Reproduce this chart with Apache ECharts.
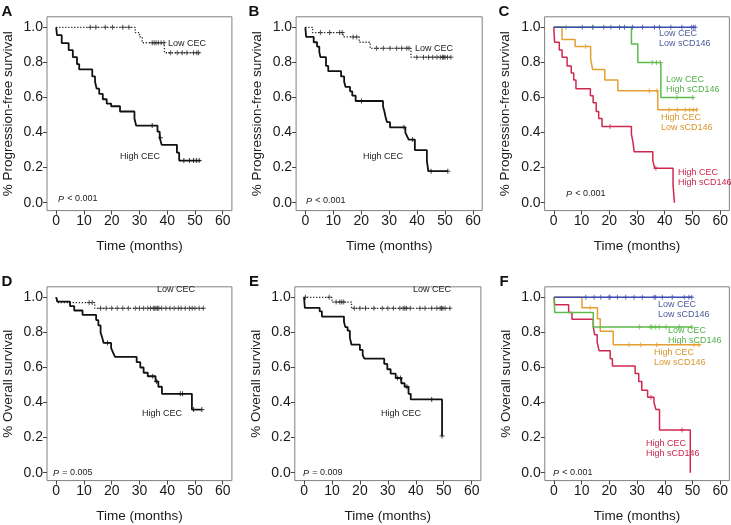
<!DOCTYPE html>
<html><head><meta charset="utf-8">
<script src="https://cdn.jsdelivr.net/npm/echarts@6/dist/echarts.min.js"></script>
<style>html,body{margin:0;padding:0;background:#fff}#c{width:731px;height:525px}</style>
</head><body><div id="c"></div>
<script>
// Tick labels
const xTicks = [0, 10, 20, 30, 40, 50, 60];
const yTicks = [0, 0.2, 0.4, 0.6, 0.8, 1.0];

// Panel A (PFS)
const A_high = [[0,1],[0.3,0.955],[2,0.91],[4.5,0.87],[6,0.83],[7.5,0.79],[8.3,0.76],[13,0.72],[14,0.69],[14.6,0.65],[15.5,0.62],[16.8,0.59],[18.2,0.565],[19.8,0.55],[23,0.52],[28.2,0.48],[28.8,0.44],[36.5,0.405],[37.3,0.37],[38,0.33],[43.5,0.285],[44.3,0.24],[52,0.24]];
const A_highCens = [34.6,37.6,46,48,49.5,50.5,51.5];
const A_low = [[0,1],[28.5,0.97],[30,0.945],[31,0.912],[39,0.855],[51.6,0.855]];
const A_lowCens = [12.3,14.3,17.7,20.3,24,26.2,34.6,35.3,36,36.8,37.8,38.8,41.2,43.6,45.4,47.1,49.5,50.7,51.3];

// Panel B (PFS)
const B_high = [[0,1],[0.3,0.945],[3,0.915],[4.2,0.89],[5,0.86],[5.4,0.83],[7.4,0.78],[8.2,0.75],[12.8,0.72],[13.9,0.69],[14.4,0.66],[16,0.635],[16.8,0.61],[18,0.58],[27.8,0.55],[28.3,0.52],[28.7,0.49],[29.2,0.46],[30.3,0.43],[35.8,0.40],[36.4,0.38],[37,0.36],[39.2,0.30],[43.5,0.24],[44,0.18],[51,0.18]];
const B_highCens = [20.1,35.3,38.4,45,51];
const B_low = [[0,1],[2.6,0.97],[13.6,0.945],[19.3,0.915],[23.2,0.88],[37.8,0.83],[52.1,0.83]];
const B_lowCens = [5.4,8.7,12.3,13.2,17.1,18.4,25.5,27.9,30.3,32.7,34.5,36.3,37.1,39.9,42.3,44.1,45.6,47.1,48.3,49.1,49.5,50,50.9,52.1];

// Panel C (PFS, 4 groups)
const C_lowlow = [[0,1],[51,1]];
const C_lowlowCens = [10.3,14.1,18,20.6,23.7,25.5,28.4,32,36.3,38.1,42.2,46.2,49.7,50.4,51];
const C_lowhigh = [[0,1],[28,0.905],[30.3,0.8],[38.6,0.6],[50.5,0.6]];
const C_lowhighCens = [4.4,14.1,35.5,37,38.4,44.4,50.1];
const C_highlow = [[0,1],[3,0.93],[7.7,0.89],[13.3,0.82],[14,0.76],[18.4,0.70],[23.1,0.638],[37.5,0.53],[51.8,0.53]];
const C_highlowCens = [11.5,34.4,37.2,41.6,44.5,47.4,49,50.3,51.5];
const C_highhigh = [[0,1],[0.3,0.915],[2,0.87],[3,0.83],[4.8,0.78],[6.3,0.74],[7.2,0.70],[8,0.65],[13.2,0.61],[14.2,0.57],[15.3,0.52],[16.2,0.48],[17.4,0.435],[28,0.39],[28.5,0.35],[29,0.29],[35.7,0.24],[36.4,0.196],[43,0.10],[43.5,0]];
const C_highhighCens = [20.3,36.8];

// Panel D (OS)
const D_high = [[0,1],[0.5,0.975],[5,0.95],[6.5,0.925],[9.5,0.90],[14.4,0.87],[15.2,0.84],[16,0.80],[16.6,0.77],[17.1,0.74],[19.8,0.71],[20.5,0.685],[21.2,0.66],[29,0.63],[30.3,0.60],[31.5,0.57],[33,0.55],[35.8,0.52],[36.8,0.49],[38.1,0.45],[48.9,0.36],[52.5,0.36]];
const D_highCens = [18.5,34.8,36.2,44.7,45.5,49.5,52.5];
const D_low = [[0,1],[0.3,0.97],[13.9,0.937],[53,0.937]];
const D_lowCens = [11.9,13,16,18,20,22,24,26,28.5,30,31.5,33,34,35,35.5,36,36.5,37,38,39.5,41,42.5,44,45,46.5,48,49,50,51.5,53];

// Panel E (OS)
const E_high = [[0,1],[0.3,0.94],[5.6,0.92],[6.4,0.89],[14.3,0.86],[14.8,0.83],[15.6,0.81],[16.4,0.77],[17,0.73],[20,0.70],[21,0.67],[21.6,0.65],[28.7,0.62],[29.8,0.59],[31,0.565],[32.8,0.54],[34.8,0.51],[36,0.49],[37.4,0.45],[38.2,0.418],[49.4,0.21]];
const E_highCens = [33.5,34.5,36.8,45.7,49.4];
const E_low = [[0,1],[10,0.973],[17,0.937],[52.8,0.937]];
const E_lowCens = [0.5,9,11.5,12.8,13.5,14.2,18,20,22,25,28,30,32,34.3,35.5,36.1,36.7,38,41.5,43.3,45.7,47.5,48.7,49.2,49.7,50.5,52.2];

// Panel F (OS, 4 groups)
const F_lowlow = [[0,1],[50,1]];
const F_lowlowCens = [11.5,14.5,16.9,19.9,20.2,22.9,25.9,28.9,31.9,36.1,36.7,39.1,42.7,47,48.7,49.7];
const F_lowhigh = [[0,1],[0.3,0.913],[14.2,0.831],[49.9,0.831]];
const F_lowhighCens = [30.8,34.8,35.4,36.7,38,40.4,45.2,49.7];
const F_highlow = [[0,1],[10.1,0.941],[15.7,0.878],[16.7,0.806],[21.4,0.73],[52.9,0.73]];
const F_highlowCens = [13.1,27.1,31.3,37.1,50.5,52.3];
const F_highhigh = [[0,1],[0.3,0.958],[5.3,0.913],[6.5,0.875],[14.2,0.83],[14.7,0.787],[15.6,0.745],[16.3,0.695],[20.3,0.65],[21.1,0.608],[29.3,0.565],[30.6,0.52],[31.7,0.47],[33.8,0.43],[36.1,0.40],[36.8,0.36],[38.1,0.243],[49.2,0]];
const F_highhighCens = [35,46.2];

const BLACK = '#111', DOT = '#2a2a2a';
const BLUE = '#3e4eb0', GREEN = '#5dba4b', ORANGE = '#e3a030', RED = '#cf2850';
const BLUE_T = '#4c5a9c', GREEN_T = '#52b04a', ORANGE_T = '#d8962a', RED_T = '#cc2450';

const PFS = '% Progression-free survival', OS = '% Overall survival';
const panels = [
  {letter:'A', left:45.8, top:16.8, yName:PFS, curves:[
    {d:A_low, c:A_lowCens, color:DOT, dash:true},{d:A_high, c:A_highCens, color:BLACK}],
    labels:[{t:'Low CEC',x:168,y:44},{t:'High CEC',x:120,y:157}], p:{t:'< 0.001',x:58,y:199}},
  {letter:'B', left:296.1, top:16.8, yName:PFS, curves:[
    {d:B_low, c:B_lowCens, color:DOT, dash:true},{d:B_high, c:B_highCens, color:BLACK}],
    labels:[{t:'Low CEC',x:415,y:49},{t:'High CEC',x:363,y:157}], p:{t:'< 0.001',x:306,y:201}},
  {letter:'C', left:544.6, top:16.8, yName:PFS, curves:[
    {d:C_highhigh, c:C_highhighCens, color:RED},{d:C_highlow, c:C_highlowCens, color:ORANGE},
    {d:C_lowhigh, c:C_lowhighCens, color:GREEN},{d:C_lowlow, c:C_lowlowCens, color:BLUE}],
    labels:[{t:'Low CEC\nLow sCD146',x:659,y:39,col:BLUE_T},{t:'Low CEC\nHigh sCD146',x:666,y:84.5,col:GREEN_T},
            {t:'High CEC\nLow sCD146',x:661,y:123,col:ORANGE_T},{t:'High CEC\nHigh sCD146',x:678,y:178,col:RED_T}],
    p:{t:'< 0.001',x:566,y:194}},
  {letter:'D', left:45.8, top:286.8, yName:OS, curves:[
    {d:D_low, c:D_lowCens, color:DOT, dash:true},{d:D_high, c:D_highCens, color:BLACK}],
    labels:[{t:'Low CEC',x:157,y:290},{t:'High CEC',x:142,y:414}], p:{t:'= 0.005',x:53,y:473}},
  {letter:'E', left:294.8, top:286.8, yName:OS, curves:[
    {d:E_low, c:E_lowCens, color:DOT, dash:true},{d:E_high, c:E_highCens, color:BLACK}],
    labels:[{t:'Low CEC',x:413,y:290},{t:'High CEC',x:381,y:414}], p:{t:'= 0.009',x:303,y:473}},
  {letter:'F', left:544.8, top:286.8, yName:OS, curves:[
    {d:F_highhigh, c:F_highhighCens, color:RED},{d:F_highlow, c:F_highlowCens, color:ORANGE},
    {d:F_lowhigh, c:F_lowhighCens, color:GREEN},{d:F_lowlow, c:F_lowlowCens, color:BLUE}],
    labels:[{t:'Low CEC\nLow sCD146',x:658,y:310,col:BLUE_T},{t:'Low CEC\nHigh sCD146',x:668,y:336,col:GREEN_T},
            {t:'High CEC\nLow sCD146',x:654,y:358,col:ORANGE_T},{t:'High CEC\nHigh sCD146',x:646,y:449,col:RED_T}],
    p:{t:'< 0.001',x:553,y:473}}
];

function survAt(curve, t) {
  let s = curve[0][1];
  for (const [tt, ss] of curve) { if (tt <= t + 1e-9) s = ss; else break; }
  return s;
}

const W = 186.1, H = 193.8;
const grids = [], xAxes = [], yAxes = [], series = [], graphics = [];
const PLUS = 'path://M4,0h2v4h4v2h-4v4h-2v-4h-4v-2h4z';
const FONT = 'Liberation Sans, Arial, Helvetica, sans-serif';

panels.forEach((p, i) => {
  grids.push({left:p.left, top:p.top, width:W, height:H, show:true, borderColor:'#808080', borderWidth:1, containLabel:false});
  xAxes.push({gridIndex:i, type:'value', min:-3.3, max:63.3, position:'bottom',
    axisLine:{show:false, onZero:false}, splitLine:{show:false},
    axisTick:{show:true, customValues:xTicks, length:4, lineStyle:{color:'#444', width:1}},
    axisLabel:{show:true, customValues:xTicks, fontSize:14, color:'#1a1a1a', margin:4, fontFamily:FONT},
    name:'Time (months)', nameLocation:'middle', nameGap:29,
    nameTextStyle:{fontSize:13.5, color:'#1a1a1a', fontFamily:FONT}});
  yAxes.push({gridIndex:i, type:'value', min:-0.045, max:1.06, position:'left',
    axisLine:{show:false, onZero:false}, splitLine:{show:false},
    axisTick:{show:true, customValues:yTicks, length:4, lineStyle:{color:'#444', width:1}},
    axisLabel:{show:true, customValues:yTicks, fontSize:14, color:'#1a1a1a', margin:4, fontFamily:FONT,
      formatter:v => v.toFixed(1)},
    name:p.yName, nameLocation:'middle', nameGap:32,
    nameTextStyle:{fontSize:13.5, color:'#1a1a1a', fontFamily:FONT}});
  p.curves.forEach(cv => {
    const isBlack = cv.color === BLACK;
    series.push({type:'line', xAxisIndex:i, yAxisIndex:i, step:'end', data:cv.d,
      showSymbol:false, silent:true, animation:false,
      lineStyle:{color:cv.color, width:cv.dash ? 1.3 : (isBlack ? 1.8 : 1.5), type:cv.dash ? [1.3,1.7] : 'solid'}});
    series.push({type:'scatter', xAxisIndex:i, yAxisIndex:i, data:cv.c.map(t => [t, survAt(cv.d, t)]),
      symbol:PLUS, symbolSize:5, silent:true, animation:false,
      itemStyle:{color:cv.color}});
  });
  graphics.push({type:'text', x:(i%3===0?7:(i%3===1?254:504)), y:(i<3?12:282),
    style:{text:p.letter, font:'bold 15px '+FONT, fill:'#111', textAlign:'center', textVerticalAlign:'middle'}});
  p.labels.forEach(l => {
    graphics.push({type:'text', x:l.x, y:l.y,
      style:{text:l.t, font:'9px '+FONT, fill:l.col || '#222', textAlign:'left', textVerticalAlign:'middle', lineHeight:10}});
  });
  graphics.push({type:'text', x:p.p.x, y:p.p.y,
    style:{text:'{i|P} {n|'+p.p.t+'}', textAlign:'left', textVerticalAlign:'middle',
      rich:{i:{font:'italic 9px '+FONT, fill:'#222'}, n:{font:'9px '+FONT, fill:'#222'}}}});
});

const chart = echarts.init(document.getElementById('c'), null, {renderer:'canvas'});
chart.setOption({animation:false, backgroundColor:'#fff', grid:grids, xAxis:xAxes, yAxis:yAxes, series:series, graphic:graphics});
</script></body></html>
